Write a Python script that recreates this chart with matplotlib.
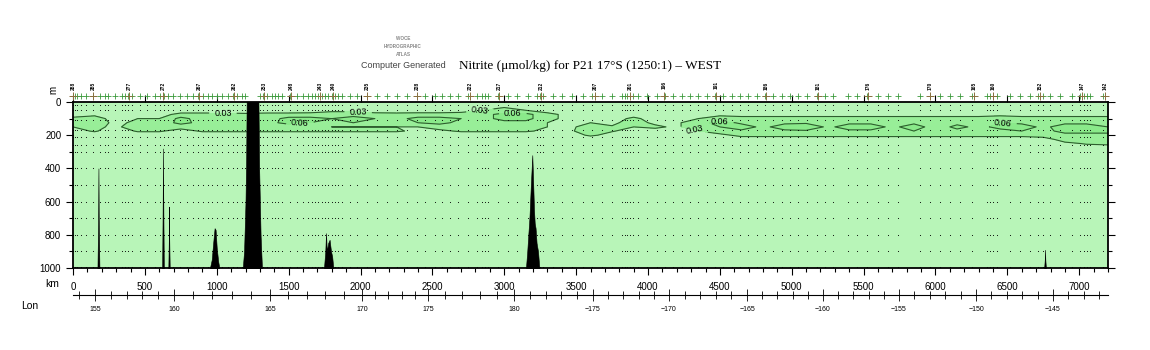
import matplotlib.pyplot as plt
import numpy as np
from matplotlib.ticker import MultipleLocator
from matplotlib.transforms import blended_transform_factory

plt.rcParams['font.family'] = ['Liberation Sans', 'DejaVu Sans']

# grid of the section: distance along track (km) and depth (m)
GRID_KM = list(range(0, 7201, 150))
GRID_DEPTH = [0, 50, 75, 100, 125, 150, 175, 200, 225, 250, 300, 1000]

# nitrite, in 0.01 umol/kg, one row per depth (49 columns, every 150 km)
NO2_0 = [1] * 49
NO2_50 = [1.5, 1.5, 1.5, 1.5, 1.5, 1.5, 1.5, 1.5, 1.5, 1.5,
          1.5, 1.5, 2, 2, 1.5, 1.5, 1.5, 1.5, 2, 3,
          4, 3, 1.5, 1.5, 1.5, 1.5, 1.5, 1.5, 1.5, 1.5,
          1.5, 1.5, 1.5, 1.5, 1.5, 1.5, 1.5, 1.5, 1.5, 1.5,
          1.5, 1.5, 1.5, 1.5, 1.5, 1.5, 1.5, 1.5, 1.5]
NO2_75 = [2, 2.5, 1.5, 2, 2, 3.8, 3.8, 3.8, 3.5, 3.8,
          3.8, 4, 5, 5, 4, 3.8, 4, 4, 4, 5,
          7, 7, 4, 2, 1.5, 1.5, 2, 1.5, 1.5, 2,
          2.5, 2.5, 2.5, 2.5, 2.5, 2.5, 2.5, 2.5, 2.5, 2.5,
          2.5, 2.5, 2.5, 2.5, 2.5, 2.5, 2.5, 2.5, 2.5]
NO2_100 = [3.5, 4, 2, 3, 3, 7, 4.5, 5, 5, 4.5,
           7, 7, 6, 7, 6, 5, 7, 7, 6, 5,
           7, 7, 4, 2, 2, 2, 3.5, 2, 2, 3,
           4, 3.5, 3.5, 3.5, 3.5, 3.5, 3.5, 3.5, 3.5, 3.5,
           3.5, 3.5, 3.5, 4, 3.5, 3.5, 3.5, 3.5, 3.5]
NO2_125 = [4, 5, 2, 4, 4, 7, 5, 5, 5, 5,
           7, 6, 5, 6, 5, 5, 6, 7, 5, 5,
           5, 5, 3, 2, 3, 2.5, 4, 2.5, 2.5, 5,
           7, 5.6, 5, 5.6, 5.6, 5, 5.6, 5.6, 5, 5.6,
           5, 5.5, 5, 6, 5.6, 5, 5.6, 5.6, 5]
NO2_150 = [3, 4, 2, 6, 5, 4, 4, 4, 4, 3,
           4, 4, 3, 3, 3, 3, 3, 4, 4, 4,
           4, 4, 3, 2, 5, 3.2, 3, 3.5, 2.5, 5,
           6, 7, 5.5, 7, 8, 5.5, 7, 7, 5.5, 7,
           5, 6.5, 5.5, 6.5, 7, 5.5, 7, 7, 6]
NO2_175 = [2, 3.3, 1.5, 3.3, 3.3, 2, 3.3, 3.3, 3.3, 3.3,
           3.3, 3.3, 3.3, 3.3, 3.3, 3.3, 2.5, 2.5, 3.3, 3.3,
           3.3, 3.3, 2.5, 2, 6, 3.2, 2, 2, 2, 3,
           4, 5.6, 4.5, 5.6, 5.6, 4.5, 5.6, 5.6, 4.5, 6,
           4.5, 5.5, 4.5, 5.5, 6, 5, 7, 7, 7]
NO2_200 = [1.5, 1.5, 1.5, 1.5, 1.5, 1.5, 1.5, 1.5, 1.5, 1.5,
           1.5, 1.5, 1.5, 1.5, 1.5, 1.5, 1.5, 1.5, 1.5, 1.5,
           1.5, 1.5, 1.5, 1.5, 3.5, 2, 1.5, 1.5, 1.5, 2,
           2.5, 3.5, 3.5, 3.5, 3.5, 3.5, 3.5, 3.5, 3.5, 3.5,
           3.5, 3.5, 3.5, 3.5, 3.5, 4, 5, 5, 5]
NO2_225 = [1] * 29 + [2] * 17 + [4, 4, 4]
NO2_250 = [1] * 46 + [2.5, 3.2, 3.4]
NO2_300 = [1] * 49
NO2_1000 = [0] * 49

# station positions (km) along the top, and labelled stations
STATION_KM = [0, 14, 30, 54, 90, 141, 188, 223, 241, 292, 339, 362, 385, 408, 466,
              517, 570, 605, 635, 663, 698, 744, 791, 833, 867, 906, 941, 965, 1000,
              1034, 1080, 1111, 1139, 1174, 1197, 1301, 1322, 1350, 1384, 1405, 1426,
              1454, 1510, 1558, 1600, 1635, 1663, 1683, 1704, 1732, 1753, 1774, 1802,
              1823, 1844, 1871, 1927, 1976, 2045, 2115, 2184, 2254, 2323, 2393, 2449,
              2518, 2567, 2623, 2678, 2748, 2810, 2845, 2866, 2887, 2957, 3026, 3089,
              3165, 3228, 3249, 3270, 3339, 3402, 3471, 3548, 3610, 3680, 3750, 3819,
              3840, 3854, 3875, 3896, 3930, 3993, 4062, 4118, 4174, 4236, 4292, 4348,
              4410, 4466, 4522, 4584, 4640, 4696, 4758, 4814, 4870, 4932, 4988, 5043,
              5106, 5176, 5231, 5287, 5391, 5454, 5523, 5600, 5670, 5739, 5892, 5962,
              6031, 6101, 6170, 6254, 6358, 6379, 6400, 6428, 6518, 6588, 6658, 6713,
              6748, 6797, 6866, 6950, 7005, 7033, 7054, 7075, 7165]
LABEL_KM = [0, 139, 390, 626, 877, 1120, 1329, 1517, 1718, 1809, 2045, 2393, 2762,
            2963, 3256, 3631, 3875, 4111, 4473, 4821, 5183, 5531, 5962, 6268, 6400,
            6727, 7019, 7179]
LABEL_TXT = ['288', '285', '277', '272', '267', '262', '253', '248', '243', '240',
             '235', '228', '222', '217', '212', '207', '201', '196', '191', '186',
             '181', '176', '170', '165', '160', '152', '147', '142']
SAMPLE_DEPTH = [20, 50, 110, 170, 210, 260, 300, 400, 500, 600, 700, 800, 900, 995]

# bottom topography (km, depth m)
BATHY_KM = [0, 170, 175, 177, 179, 184, 620, 624, 626, 628, 632, 663, 667, 668, 669, 673,
            950, 965, 975, 985, 992, 1000, 1010, 1020, 1180, 1190, 1200, 1205, 1208,
            1290, 1295, 1305, 1315, 1745, 1755, 1760, 1766, 1775, 1785, 1795, 1803, 1812,
            3150, 3160, 3165, 3175, 3185, 3195, 3200, 3207, 3212, 3218, 3225, 3235, 3245,
            6755, 6760, 6762, 6764, 6769, 7200]
BATHY_DEPTH = [1010, 1010, 700, 400, 700, 1010, 1010, 600, 280, 600, 1010, 1010, 800, 630,
               800, 1010, 1010, 950, 850, 760, 770, 880, 960, 1010, 1010, 900, 600, 300,
               -5, -5, 400, 800, 1010, 1010, 900, 790, 900, 850, 830, 900, 930, 1010,
               1010, 900, 830, 700, 500, 320, 450, 650, 730, 760, 850, 900, 1010,
               1010, 950, 890, 950, 1010, 1010]

# longitude scale under the km axis (degrees east, >180 shown as west)
LON_DEG = [153.6, 155, 160, 165, 170, 175, 180, 185, 190, 195, 200, 205, 210, 215, 218.6]
LON_KM = [0, 153, 703, 1370, 2010, 2470, 3068, 3617, 4146, 4689, 5217, 5746, 6282, 6817, 7200]
LON_LABELS = ['155', '160', '165', '170', '175', '180', '\u2212175', '\u2212170',
              '\u2212165', '\u2212160', '\u2212155', '\u2212150', '\u2212145']

CLABEL_POS = [(1043, 102), (1580, 145), (1983, 72), (2830, 48), (3060, 60),
              (4320, 175), (4500, 114), (6470, 114)]

no2 = np.array([NO2_0, NO2_50, NO2_75, NO2_100, NO2_125, NO2_150, NO2_175,
                NO2_200, NO2_225, NO2_250, NO2_300, NO2_1000]) * 0.01

fig = plt.figure(figsize=(11.5, 3.5), dpi=100)
ax = fig.add_axes([73 / 1150, 82 / 350, 1035 / 1150, 166 / 350])

ax.contourf(GRID_KM, GRID_DEPTH, no2, levels=[-1, 0.03, 0.06, 1],
            colors=['#b8f5b8', '#98ee98', '#8aea8a'])
cs = ax.contour(GRID_KM, GRID_DEPTH, no2, levels=[0.03, 0.06],
                colors='#2d5e2d', linewidths=0.8)
ax.clabel(cs, fmt='%.2f', manual=CLABEL_POS, inline=True, fontsize=6.5, colors='black')

# sample dots
sx, sy = np.meshgrid(STATION_KM, SAMPLE_DEPTH)
ax.scatter(sx.ravel(), sy.ravel(), s=0.6, c='black', linewidths=0, zorder=3)

ax.fill_between(BATHY_KM, BATHY_DEPTH, 1010, color='black', lw=0.4, zorder=4)

ax.set_xlim(0, 7200)
ax.set_ylim(1000, 0)
ax.xaxis.set_major_locator(MultipleLocator(500))
ax.xaxis.set_minor_locator(MultipleLocator(100))
ax.yaxis.set_major_locator(MultipleLocator(200))
ax.yaxis.set_minor_locator(MultipleLocator(100))
ax.tick_params(which='both', direction='out', labelsize=7, width=0.8)
ax.tick_params(which='major', length=5)
ax.tick_params(which='minor', length=3)
ax.tick_params(axis='x', which='major', top=True, pad=5)
ax.tick_params(axis='y', which='both', right=True)
for s in ax.spines.values():
    s.set_linewidth(1.3)

# station markers and numbers on top
trans = blended_transform_factory(ax.transData, ax.transAxes)
ax.plot(STATION_KM, [1.036] * len(STATION_KM), '+', color='#3c9a3c', ms=4.5, mew=0.6,
        transform=trans, clip_on=False)
ax.plot(LABEL_KM, [1.036] * len(LABEL_KM), '+', color='#8a7040', ms=6, mew=0.7,
        transform=trans, clip_on=False)
for k, t in zip(LABEL_KM, LABEL_TXT):
    ax.text(k, 1.10, t, transform=trans, rotation=90, fontsize=3.5, weight='bold',
            ha='center', va='center')

ax.text(-0.014, 1.075, 'm', transform=ax.transAxes, rotation=90, fontsize=7,
        ha='right', va='center')

# longitude axis
lon = ax.secondary_xaxis(-0.163)
lon.set_xticks(LON_KM[1:-1], LON_LABELS)
lon.set_xticks(np.interp(np.arange(154, 219), LON_DEG, LON_KM), minor=True)
lon.tick_params(which='both', direction='inout', labelsize=5, pad=4, width=0.6)
lon.tick_params(which='major', length=8)
lon.tick_params(which='minor', length=6)
lon.spines['bottom'].set_linewidth(0.8)

fig.text(52 / 1150, 1 - 284 / 350, 'km', fontsize=7.5, ha='center', va='center')
fig.text(30 / 1150, 1 - 306 / 350, 'Lon', fontsize=7.5, ha='center', va='center')

fig.text(590 / 1150, 1 - 66 / 350, 'Nitrite (\u03bcmol/kg) for P21 17\u00b0S (1250:1) \u2013 WEST',
         family='Liberation Serif', fontsize=9.5, ha='center', va='center')
for txt, yy in [('WOCE', 38), ('HYDROGRAPHIC', 46), ('ATLAS', 55)]:
    fig.text(403 / 1150, 1 - yy / 350, txt, fontsize=3.3, color='#888888', weight='bold',
             ha='center', va='center')
fig.text(403 / 1150, 1 - 65 / 350, 'Computer Generated', fontsize=6.5, color='#444444',
         ha='center', va='center')

fig.savefig('out.png', dpi=100)
